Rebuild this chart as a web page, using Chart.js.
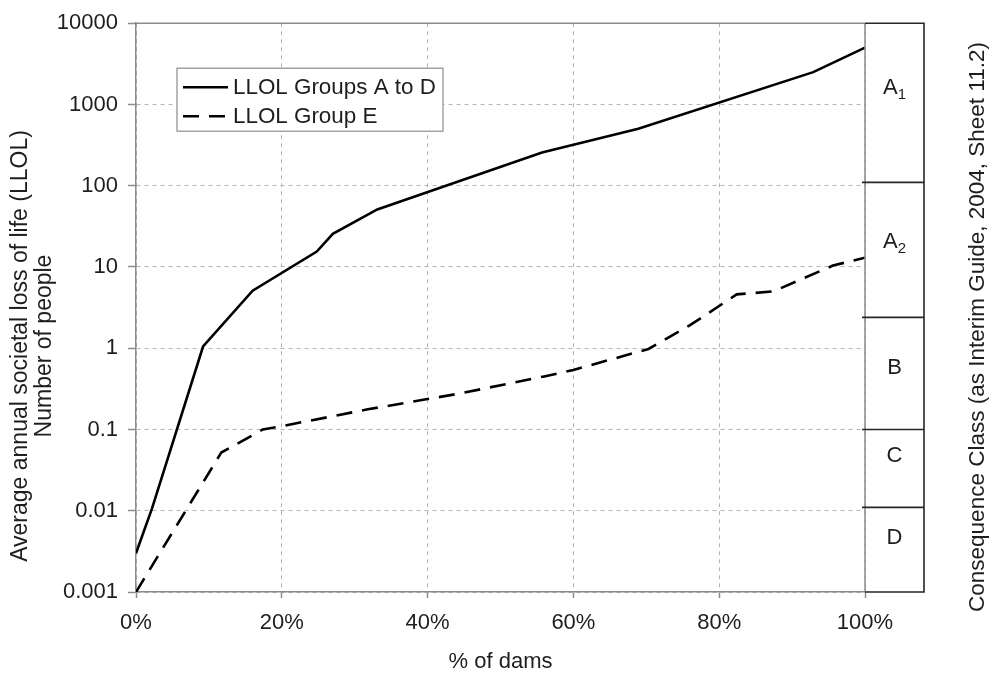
<!DOCTYPE html>
<html>
<head>
<meta charset="utf-8">
<script src="https://cdn.jsdelivr.net/npm/chart.js@4/dist/chart.umd.min.js"></script>
<style>
  html, body { margin: 0; padding: 0; background: #fff; }
  canvas { display: block; }
</style>
</head>
<body>
<canvas id="c" width="993" height="673"></canvas>
<script>
// ---- data ----
const pctAtoD   = [0, 2.2, 9.2, 16, 24.8, 27, 33.1, 55.7, 68.9, 92.9, 100];
const llolAtoD  = [0.003, 0.0107, 1.05, 5.1, 15.5, 25.6, 51, 257, 501, 2500, 5000];
const pctE      = [0, 11.7, 17.4, 20, 31.8, 44.4, 56, 60, 70.3, 76, 82.4, 87.4, 95.6, 100];
const llolE     = [0.001, 0.052, 0.1, 0.11, 0.177, 0.277, 0.45, 0.54, 0.98, 1.92, 4.6, 5.0, 10.4, 13];
const seriesNames = ['LLOL Groups A to D', 'LLOL Group E'];
const yTickValues = [0.001, 0.01, 0.1, 1, 10, 100, 1000, 10000];
const yTickLabels = ['0.001', '0.01', '0.1', '1', '10', '100', '1000', '10000'];
const xTickValues = [0, 20, 40, 60, 80, 100];
const xTickLabels = ['0%', '20%', '40%', '60%', '80%', '100%'];
const classNames  = ['A', 'A', 'B', 'C', 'D'];
const classSubs   = ['1', '2', '', '', ''];
const classBounds = [10000, 110, 2.4, 0.1, 0.011, 0.001];
const xTitle = '% of dams';
const yTitleLines = ['Average annual societal loss of life (LLOL)', 'Number of people'];
const rightTitle = 'Consequence Class (as Interim Guide, 2004, Sheet 11.2)';

const FONT = "'Liberation Sans', Arial, sans-serif";
const FS = 22;
const TXT = '#1e1e1e';
const AXIS = '#8c8c8c';
const GRID = '#b4b4b4';
const DASH_E = [16, 10];

const toPts = (xs, ys) => xs.map((x, i) => ({ x: x, y: ys[i] }));

const overlay = {
  id: 'overlay',
  afterDraw(chart) {
    const { ctx, chartArea: a, scales: { y } } = chart;
    ctx.save();
    // top + right frame of plot
    ctx.strokeStyle = AXIS; ctx.lineWidth = 1.5; ctx.setLineDash([]);
    ctx.beginPath();
    ctx.moveTo(a.left, a.top); ctx.lineTo(a.right, a.top);
    ctx.moveTo(a.right, a.top); ctx.lineTo(a.right, a.bottom);
    ctx.stroke();

    // consequence class box
    const bx0 = a.right, bx1 = a.right + 59;
    const ys = classBounds.map(v => y.getPixelForValue(v));
    ctx.strokeStyle = '#262626'; ctx.lineWidth = 1.6;
    ctx.beginPath();
    ctx.moveTo(bx0, ys[0]); ctx.lineTo(bx1, ys[0]);
    ctx.lineTo(bx1, ys[ys.length - 1]); ctx.lineTo(bx0, ys[ys.length - 1]);
    for (let i = 1; i < ys.length - 1; i++) { ctx.moveTo(bx0 - 3, ys[i]); ctx.lineTo(bx1, ys[i]); }
    ctx.stroke();
    ctx.fillStyle = TXT; ctx.textBaseline = 'middle';
    const cx = (bx0 + bx1) / 2;
    const lift = [15, 8, 5, 12, 12];
    for (let i = 0; i < classNames.length; i++) {
      const cy = (ys[i] + ys[i + 1]) / 2 - lift[i];
      ctx.font = FS + 'px ' + FONT;
      const w1 = ctx.measureText(classNames[i]).width;
      ctx.font = '15px ' + FONT;
      const w2 = classSubs[i] ? ctx.measureText(classSubs[i]).width : 0;
      const sx = cx - (w1 + w2) / 2;
      ctx.textAlign = 'left';
      ctx.font = FS + 'px ' + FONT;
      ctx.fillText(classNames[i], sx, cy);
      if (classSubs[i]) { ctx.font = '15px ' + FONT; ctx.fillText(classSubs[i], sx + w1, cy + 7); }
    }

    // right title
    ctx.save();
    ctx.translate(978, 327);
    ctx.rotate(-Math.PI / 2);
    ctx.font = '22.5px ' + FONT; ctx.textAlign = 'center'; ctx.textBaseline = 'middle';
    ctx.fillText(rightTitle, 0, 0);
    ctx.restore();

    // left title (two lines)
    ctx.save();
    ctx.translate(0, 346);
    ctx.rotate(-Math.PI / 2);
    ctx.font = '23px ' + FONT; ctx.textAlign = 'center'; ctx.textBaseline = 'middle';
    ctx.fillText(yTitleLines[0], 0, 21);
    ctx.fillText(yTitleLines[1], 0, 45);
    ctx.restore();

    // legend
    const lx = a.left + 41, ly = a.top + 45, lw = 266, lh = 63;
    ctx.fillStyle = '#fff'; ctx.fillRect(lx, ly, lw, lh);
    ctx.strokeStyle = AXIS; ctx.lineWidth = 1.2; ctx.strokeRect(lx, ly, lw, lh);
    chart.data.datasets.forEach((ds, i) => {
      const ry = ly + 19 + i * 29;
      ctx.strokeStyle = ds.borderColor; ctx.lineWidth = ds.borderWidth;
      ctx.setLineDash(ds.borderDash || []);
      ctx.beginPath(); ctx.moveTo(lx + 6, ry); ctx.lineTo(lx + 51, ry); ctx.stroke();
      ctx.setLineDash([]);
      ctx.fillStyle = TXT; ctx.font = '22.4px ' + FONT; ctx.textAlign = 'left'; ctx.textBaseline = 'middle';
      ctx.fillText(ds.label, lx + 56, ry + 1);
    });
    ctx.restore();
  }
};

new Chart(document.getElementById('c'), {
  type: 'line',
  data: {
    datasets: [
      { label: seriesNames[0], data: toPts(pctAtoD, llolAtoD), borderColor: '#000', borderWidth: 2.6,
        pointRadius: 0, tension: 0, fill: false },
      { label: seriesNames[1], data: toPts(pctE, llolE), borderColor: '#000', borderWidth: 2.6,
        borderDash: DASH_E, pointRadius: 0, tension: 0, fill: false }
    ]
  },
  options: {
    responsive: false,
    devicePixelRatio: 1,
    animation: false,
    layout: { padding: { left: 0, right: 128, top: 19, bottom: 0 } },
    plugins: { legend: { display: false }, tooltip: { enabled: false } },
    scales: {
      x: {
        type: 'linear', min: 0, max: 100,
        afterBuildTicks: s => { s.ticks = xTickValues.map(v => ({ value: v })); },
        afterFit: s => { s.height = 81; },
        ticks: { callback: (v) => xTickLabels[xTickValues.indexOf(v)], color: TXT,
                 font: { family: FONT, size: FS }, padding: 12, maxRotation: 0 },
        grid: { color: GRID, lineWidth: 1, tickLength: 6, tickColor: AXIS, tickWidth: 1.5 },
        border: { color: AXIS, width: 1.5, dash: [4, 4] },
        title: { display: true, text: xTitle, color: TXT, font: { family: FONT, size: FS, lineHeight: 1 },
                 padding: { top: 0, bottom: 0 } }
      },
      y: {
        type: 'logarithmic', min: 0.001, max: 10000,
        afterBuildTicks: s => { s.ticks = yTickValues.map(v => ({ value: v })); },
        afterFit: s => { s.width = 136; },
        ticks: { callback: (v) => yTickLabels[yTickValues.indexOf(v)], color: TXT,
                 font: { family: FONT, size: FS }, padding: 10, autoSkip: false },
        grid: { color: GRID, lineWidth: 1, tickLength: 8, tickColor: AXIS, tickWidth: 1.5 },
        border: { color: AXIS, width: 1.5, dash: [4, 4] }
      }
    }
  },
  plugins: [overlay]
});
</script>
</body>
</html>
